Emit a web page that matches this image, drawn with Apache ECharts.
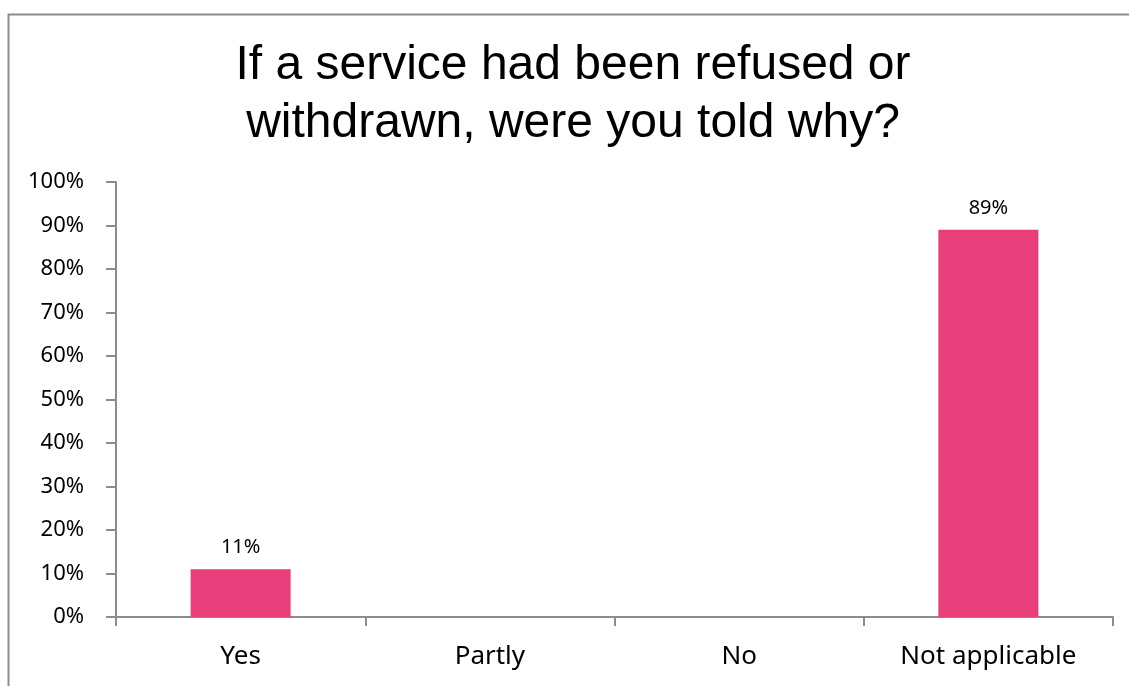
<!DOCTYPE html>
<html><head><meta charset="utf-8">
<script src="https://cdn.jsdelivr.net/npm/echarts@6/dist/echarts.min.js"></script>
<style>html,body{margin:0;padding:0;background:#fff}#c{width:1129px;height:686px}</style>
</head><body><div id="c"></div>
<script>
const titleText = 'If a service had been refused or\nwithdrawn, were you told why?';
const categories = ['Yes', 'Partly', 'No', 'Not applicable'];
const values = [11, 0, 0, 89];
const dataLabels = ['11%', '', '', '89%'];

const chart = echarts.init(document.getElementById('c'), null, {renderer: 'canvas'});
chart.setOption({
  animation: false,
  backgroundColor: '#fff',
  graphic: [{
    type: 'rect', shape: {x: 8.5, y: 14.5, width: 1200, height: 800},
    style: {fill: 'none', stroke: '#8c8c8c', lineWidth: 2}, silent: true, z: -1
  }],
  title: {
    text: titleText, left: 568, top: 32, textAlign: 'center',
    textStyle: {fontFamily: 'Liberation Sans, Arial, sans-serif', fontSize: 48, fontWeight: 'normal', color: '#000', lineHeight: 58}
  },
  grid: {left: 116, right: 16, top: 182, bottom: 69, containLabel: false},
  xAxis: {
    type: 'category', data: categories,
    axisLine: {lineStyle: {color: '#8c8c8c', width: 2}},
    axisTick: {show: true, alignWithLabel: false, length: 9, lineStyle: {color: '#8c8c8c', width: 2}},
    axisLabel: {fontFamily: 'Noto Sans, sans-serif', fontSize: 26, color: '#000', margin: 27}
  },
  yAxis: {
    type: 'value', min: 0, max: 100, interval: 10,
    axisLine: {show: true, lineStyle: {color: '#8c8c8c', width: 2}},
    axisTick: {show: true, length: 10, lineStyle: {color: '#8c8c8c', width: 2}},
    splitLine: {show: false},
    axisLabel: {formatter: '{value}%', fontFamily: 'Noto Sans, sans-serif', fontSize: 22, color: '#000', margin: 32}
  },
  series: [{
    type: 'bar', data: values, barWidth: 100,
    itemStyle: {color: '#E83E7A'},
    label: {
      show: true, position: 'top', distance: 12,
      fontFamily: 'Noto Sans, sans-serif', fontSize: 20, color: '#000',
      formatter: p => dataLabels[p.dataIndex]
    }
  }]
});
</script></body></html>
